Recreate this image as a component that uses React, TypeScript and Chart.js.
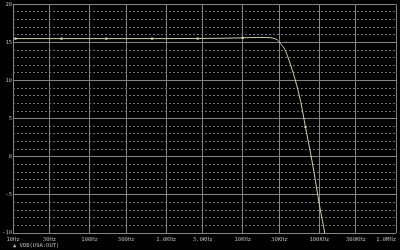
import React, { useEffect, useRef } from "react";
import { Chart, registerables } from "chart.js";

Chart.register(...registerables);

// Frequency response (Hz) and gain (dB)
const freqs = [10, 30, 100, 300, 1000, 3000, 6000, 10000, 15000, 20000, 25000, 28000, 32000, 35500, 39200, 43300, 48000, 57000, 65800, 75000, 84500, 100000, 117500, 135000];
const gainDb = [15.5, 15.5, 15.5, 15.5, 15.5, 15.52, 15.55, 15.6, 15.65, 15.65, 15.55, 15.35, 14.7, 14.05, 12.95, 11.65, 10.2, 7.2, 3.9, 1.0, -1.9, -6.3, -10, -13.5];

// Trace markers
const markerFreqs = [10.8, 42.9, 165, 655, 2580, 10000, 65800];
const markerDb = [15.5, 15.5, 15.5, 15.5, 15.5, 15.6, 3.9];

// Axis ticks
const xTickValues = [10, 30, 100, 300, 1000, 3000, 10000, 30000, 100000, 300000, 1000000];
const xTickLabels = ["10Hz", "30Hz", "100Hz", "300Hz", "1.0KHz", "3.0KHz", "10KHz", "30KHz", "100KHz", "300KHz", "1.0MHz      "];
const yMin = -10;
const yMax = 20;

const traceName = "\u25B2 VDB(U9A:OUT)";

export default function App() {
  const ref = useRef<HTMLCanvasElement | null>(null);

  useEffect(() => {
    document.body.style.margin = "0";
    document.body.style.background = "#000";
    const canvas = ref.current;
    if (!canvas) return;
    const font = { family: "'DejaVu Sans Mono', monospace", size: 5.5 };
    const chart = new Chart(canvas, {
      type: "line",
      data: {
        datasets: [
          {
            data: freqs.map((f, i) => ({ x: f, y: gainDb[i] })),
            borderColor: "#cdd4a6",
            borderWidth: 1,
            pointRadius: 0,
            cubicInterpolationMode: "monotone",
            fill: false,
          },
          {
            data: markerFreqs.map((f, i) => ({ x: f, y: markerDb[i] })),
            showLine: false,
            pointStyle: "rect",
            pointRadius: 1.5,
            pointBackgroundColor: "#cdd4a6",
            pointBorderColor: "#cdd4a6",
            pointBorderWidth: 0,
          },
        ],
      },
      options: {
        responsive: false,
        animation: false,
        devicePixelRatio: 1,
        layout: { padding: { top: 4, right: 3, left: 0, bottom: 0 } },
        plugins: { legend: { display: false }, tooltip: { enabled: false } },
        scales: {
          x: {
            type: "logarithmic",
            min: 10,
            max: 1000000,
            afterBuildTicks: (s: any) => {
              s.ticks = xTickValues.map((v) => ({ value: v }));
            },
            afterFit: (s: any) => {
              s.height = 17;
              s.paddingLeft = 0;
              s.paddingRight = 0;
            },
            ticks: {
              autoSkip: false,
              maxRotation: 0,
              minRotation: 0,
              padding: 3,
              color: "#b8b8b8",
              font,
              callback: (v: any) => {
                const i = xTickValues.indexOf(Number(v));
                return i >= 0 ? xTickLabels[i] : "";
              },
            },
            grid: { color: "#858585", lineWidth: 1, drawTicks: false },
            border: { display: false },
            title: {
              display: true,
              text: traceName,
              align: "start",
              color: "#b8b8b8",
              font,
              padding: { top: 0, bottom: 1 },
            },
          },
          y: {
            type: "linear",
            min: yMin,
            max: yMax,
            afterFit: (s: any) => {
              s.width = 13;
            },
            ticks: {
              stepSize: 1,
              autoSkip: false,
              padding: 1,
              color: "#b8b8b8",
              font,
              callback: (v: any) => (Number(v) % 5 === 0 ? String(v) : ""),
            },
            grid: {
              drawTicks: false,
              lineWidth: 1,
              color: (ctx: any) => (ctx.tick && ctx.tick.value % 5 === 0 ? "#858585" : "#707070"),
            },
            border: {
              display: false,
              dash: (ctx: any) => (ctx.tick && ctx.tick.value % 5 !== 0 ? [2, 2] : []),
            },
          },
        },
      },
    } as any);
    return () => chart.destroy();
  }, []);

  return <canvas ref={ref} width={400} height={250} style={{ display: "block", width: 400, height: 250 }} />;
}
